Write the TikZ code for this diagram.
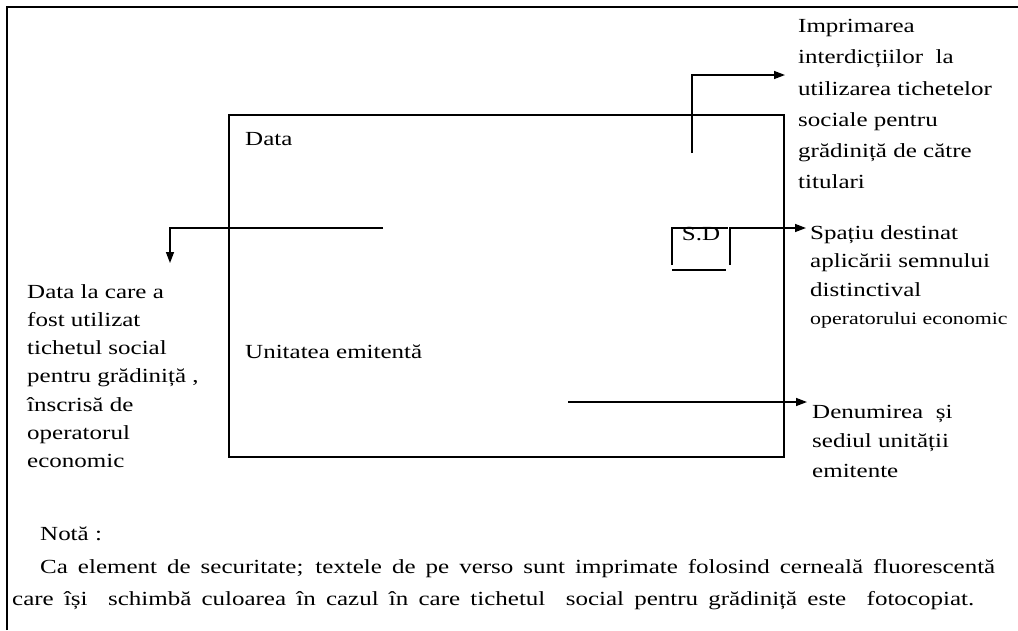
\documentclass[tikz,border=0pt]{standalone}
\usepackage{fontspec}
\setmainfont{Liberation Serif}[FakeStretch=1.25]
\usetikzlibrary{arrows.meta}
\begin{document}
\begin{tikzpicture}[x=1pt,y=-1pt,
  txt/.style={anchor=north west, inner sep=0pt, align=left},
  ln/.style={line width=1.6pt},
  arr/.style={line width=1.4pt, -{Triangle[length=11pt,width=8pt]}}]
\useasboundingbox (0,0) rectangle (1018,630);
\fill[white] (0,0) rectangle (1018,630);
% outer frame
\draw[ln] (7,630) -- (7,7) -- (1018,7);
% ticket outline
\draw[line width=2pt] (229,115) rectangle (784,457);
\node[txt, font=\fontsize{20}{28}\selectfont] (data) at (245,132) {Data};
\node[txt, font=\fontsize{20}{28}\selectfont] (unit) at (245,345) {Unitatea emitentă};
% S.D box
\node[inner sep=0pt, font=\fontsize{20}{24}\selectfont] (sd) at (701,234) {S.D};
\draw[ln] (672,265) -- (672,228) -- (728,228);
\draw[line width=2.5pt] (672,270) -- (726,270);
% labels
\node[txt, font=\fontsize{20}{28.3}\selectfont] (left) at (27,284)
  {Data la care a\\fost utilizat\\tichetul social\\pentru grădiniță ,\\înscrisă de\\operatorul\\economic};
\node[txt, font=\fontsize{20}{31.3}\selectfont] (imp) at (798,19)
  {Imprimarea\\interdicțiilor \ la\\utilizarea tichetelor\\sociale pentru\\grădiniță de către\\titulari};
\node[txt, font=\fontsize{20}{28.5}\selectfont] (spa) at (810,225)
  {Spațiu destinat\\aplicării semnului\\distinctival\\{\fontsize{17.5}{28.5}\selectfont operatorului economic}};
\node[txt, font=\fontsize{20}{29.5}\selectfont] (den) at (812,405)
  {Denumirea \ și\\sediul unității\\emitente};
\node[txt, font=\fontsize{20}{28}\selectfont] (nota) at (40,527) {Notă :};
\node[txt, font=\fontsize{20}{28}\selectfont] (n1) at (40,559)
  {\makebox[955pt][s]{Ca element de securitate; textele de pe verso sunt imprimate folosind cerneală fluorescentă}};
\node[txt, font=\fontsize{20}{28}\selectfont] (n2) at (12,591)
  {\makebox[962pt][s]{care își \ schimbă culoarea în cazul în care tichetul \ social pentru grădiniță este \ fotocopiat.}};
% connectors
\coordinate (c1a) at (692,153);
\coordinate (c1b) at (692,75);
\coordinate (c1t) at (785,75);
\draw[arr] (c1a) -- (c1b) -- (c1t);
\coordinate (c2a) at (383,228);
\coordinate (c2b) at (170,228);
\coordinate (c2t) at (170,263);
\draw[arr] (c2a) -- (c2b) -- (c2t);
\coordinate (c3a) at (730,265);
\coordinate (c3b) at (730,228);
\coordinate (c3t) at (806,228);
\draw[arr] (c3a) -- (c3b) -- (c3t);
\coordinate (c4a) at (568,402);
\coordinate (c4t) at (807,402);
\draw[arr] (c4a) -- (c4t);
\end{tikzpicture}
\end{document}
